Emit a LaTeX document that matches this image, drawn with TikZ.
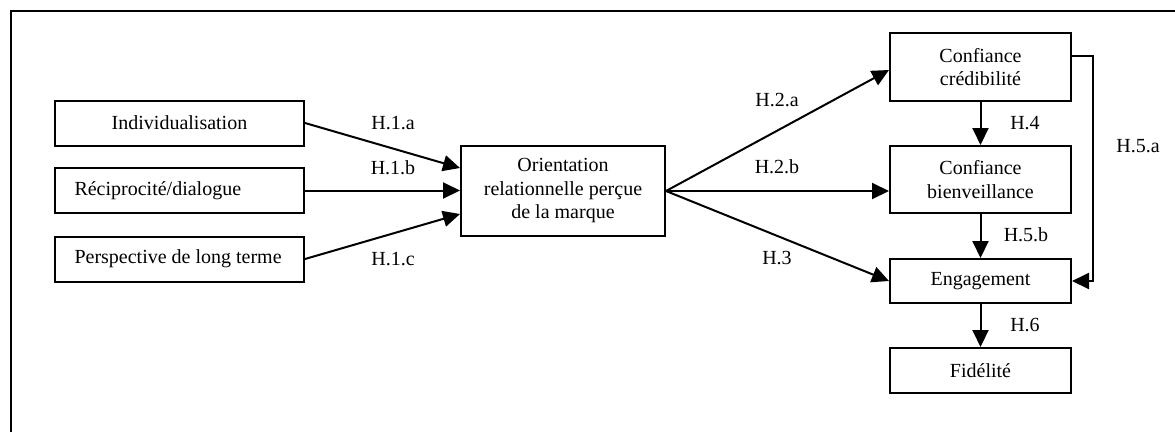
\documentclass[tikz,border=0pt]{standalone}
\usepackage{fontspec}
\setmainfont{Liberation Serif}
\usetikzlibrary{arrows.meta}
\begin{document}
\begin{tikzpicture}[x=1pt,y=-1pt,
  box/.style={draw, line width=2pt, rectangle, inner sep=0pt, align=center,
    font=\fontsize{20}{23.5}\selectfont},
  lbl/.style={inner sep=0pt, font=\fontsize{20}{23.5}\selectfont},
  arr/.style={line width=2pt, -{Triangle[length=17pt,width=16pt]}},
  frame/.style={line width=2.5pt}]
\useasboundingbox (0,0) rectangle (1175,432);
% frame
\coordinate (fbl) at (11,432);
\coordinate (ftl) at (11,11);
\coordinate (ftr) at (1175,11);
\draw[frame] (fbl) -- (ftl) -- (ftr);
% left boxes
\node[box, minimum width=249pt, minimum height=45pt] (ind) at (179.5,123) {Individualisation};
\node[box, minimum width=249pt, minimum height=45pt, inner xsep=19.5pt] (rec) at (179.5,190.5) {\makebox[210pt][l]{Réciprocité/dialogue}};
\node[box, minimum width=249pt, minimum height=45pt, inner xsep=19.5pt] (per) at (179.5,259) {\makebox[210pt][l]{Perspective de long terme}};
% center
\node[box, minimum width=204pt, minimum height=90pt] (ori) at (563,191) {Orientation\\relationnelle perçue\\de la marque};
% right column
\node[box, minimum width=181pt, minimum height=68pt] (cc) at (980.5,67) {Confiance\\crédibilité};
\node[box, minimum width=181pt, minimum height=67pt] (cb) at (980.5,179.5) {Confiance\\bienveillance};
\node[box, minimum width=181pt, minimum height=44pt] (eng) at (980.5,281) {Engagement};
\node[box, minimum width=181pt, minimum height=45pt] (fid) at (980.5,370.5) {Fidélité};
% arrows
\draw[arr] (ind.east) -- ([yshift=23pt]ori.west);
\draw[arr] (rec.east) -- (rec.east -| ori.west);
\draw[arr] (per.east) -- ([yshift=-23pt]ori.west);
\draw[arr] (ori.east) -- ([yshift=-3pt]cc.west);
\draw[arr] (ori.east) -- (ori.east -| cb.west);
\draw[arr] (ori.east) -- (eng.west);
\draw[arr] (cc.south) -- (cb.north);
\draw[arr] (cb.south) -- (eng.north);
\draw[arr] (eng.south) -- (fid.north);
\coordinate (h5s) at ([yshift=11pt]cc.east);
\coordinate (h5r) at (1093,56);
\draw[arr] (h5s) -- (h5r) |- (eng.east);
% labels
\node[lbl] (l1a) at (393,123) {H.1.a};
\node[lbl] (l1b) at (393,168) {H.1.b};
\node[lbl] (l1c) at (393,259) {H.1.c};
\node[lbl] (l2a) at (777,100) {H.2.a};
\node[lbl] (l2b) at (777,167) {H.2.b};
\node[lbl] (l3) at (777,258) {H.3};
\node[lbl] (l4) at (1025,123) {H.4};
\node[lbl] (l5b) at (1026,235) {H.5.b};
\node[lbl] (l6) at (1025,325) {H.6};
\node[lbl] (l5a) at (1138,146) {H.5.a};
\end{tikzpicture}
\end{document}
